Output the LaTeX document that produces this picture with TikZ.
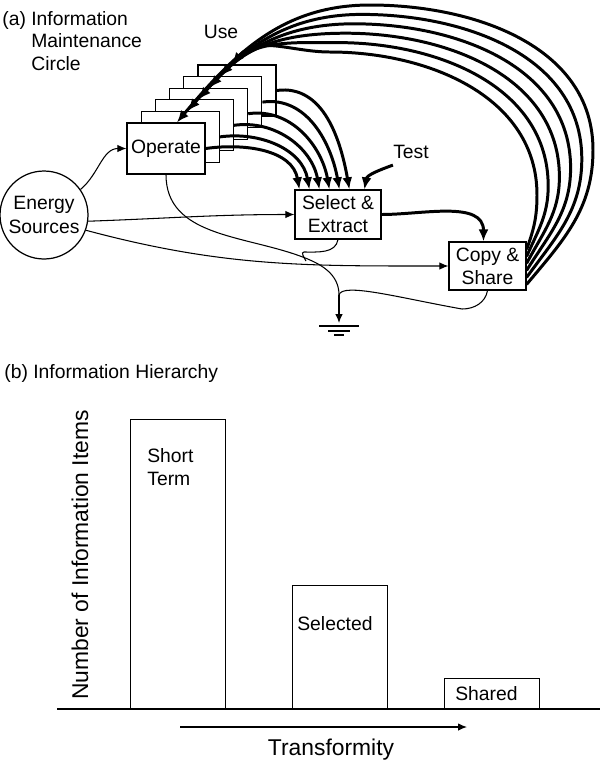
\documentclass[tikz,border=0pt]{standalone}
\usepackage{fontspec}
\setmainfont{Liberation Sans}
\usetikzlibrary{arrows.meta, positioning, calc}

\begin{document}
\begin{tikzpicture}[x=0.02cm, y=0.02cm,
        txt/.style={font=\fontsize{11}{12.8}\selectfont, inner sep=0pt},
        blk/.style={draw, fill=white, line width=0.7pt, minimum width=1.56cm, minimum height=1.02cm,
            font=\fontsize{11}{13}\selectfont, align=center, inner sep=1pt},
        src/.style={draw, circle, line width=0.7pt, minimum size=1.76cm, inner sep=0pt,
            font=\fontsize{11}{13.5}\selectfont, align=center},
        thin/.style={line width=0.6pt},
        flow/.style={-{Latex[length=1.8mm,width=1.5mm]}, line width=0.6pt},
        heavy/.style={-{Latex[length=2.4mm,width=2mm]}, line width=1.7pt},
        bar/.style={draw, line width=0.7pt, anchor=south west, minimum width=1.9cm, inner sep=0pt},
        axlbl/.style={font=\fontsize{13}{15}\selectfont, inner sep=0pt}
    ]
    \useasboundingbox (0,0) rectangle (600,-762);

    % (a) maintenance circle
    \node[txt, anchor=north west, align=left] (ttlA) at (2,-11)
        {(a) Information\\\phantom{(a) }Maintenance\\\phantom{(a) }Circle};
    \node[txt] (use) at (221,-32) {Use};
    \node[txt] (test) at (411,-152) {Test};

    % stacked operate boxes, back to front
    \foreach \k in {5,...,1}
        \node[blk] (op\k) at ({166+14.2*\k},{-148.5+11.6*\k}) {};
    \node[blk] (op0) at (166,-148.5) {Operate};

    \node[src] (en) at (44,-215) {Energy\\Sources};
    \node[blk, minimum width=1.72cm, minimum height=0.98cm] (sel) at (338,-214.5) {Select \&\\Extract};
    \node[blk, minimum width=1.54cm, minimum height=0.96cm] (cp) at (487.5,-266) {Copy \&\\Share};

    % energy inputs
    \draw[flow] (en.35) to[out=40,in=180] (op0.west);
    \draw[flow] (en.-8) to[out=2,in=180] (sel.west);
    \draw[flow] (en.-20) to[out=-15,in=180] (cp.west);

    % losses to the sink
    \coordinate (mg) at (339,-295);
    \coordinate (gd) at (339,-323);
    \draw[thin] (op0.south) to[out=-90,in=160] (300,-256) to[out=-20,in=90] (mg);
    \draw[thin] (sel.south) to[out=-100,in=0] (304,-252) to[out=180,in=120] (306,-261);
    \draw[thin] (cp.south) to[out=-100,in=0] (462,-309) .. controls (400,-298) and (342,-282) .. (mg);
    \draw[flow] (mg) -- (gd);
    \draw[thin] ($(gd)+(-20,-3)$) -- ++(40,0) ($(gd)+(-11,-8)$) -- ++(22,0) ($(gd)+(-5,-12)$) -- ++(10,0);

    % operate -> select
    \foreach \k in {0,...,5}
        \draw[heavy] (op\k.east) to[out=8,in=100] ($(sel.north west)+({5+10*\k},0)$);
    \draw[heavy] ($(test.south west)+(0,-6)$) to[out=200,in=80] ($(sel.north west)+(70,0)$);
    \draw[heavy] (sel.east) to[out=0,in=90] ($(cp.north)+(-4,0)$);

    % use: copy -> operate
    \foreach \j in {0,...,5}{
        \pgfmathtruncatemacro{\k}{5-\j}
        \pgfmathsetmacro{\oa}{70-4*\j}
        \draw[heavy] ($(cp.north east)+(0,{-8-7*\j})$) to[out=\oa,in=-90] ({537+11.2*\j},{-195+9*\j})
            to[out=90,in=0] ({330+8*\j},{-52+9.4*\j})
            to[out=180,in=50] ($(op\k.north)+({11-3.2*\k},0)$);
    }

    % (b) hierarchy
    \node[txt, anchor=west] (ttlB) at (4,-373) {(b) Information Hierarchy};
    \coordinate (ax0) at (57,-709);
    \coordinate (ax1) at (600,-709);
    \draw[thin] (ax0) -- (ax1);
    \node[bar, minimum height=5.78cm] (b1) at (130,-709) {};
    \node[bar, minimum height=2.46cm] (b2) at (292,-709) {};
    \node[bar, minimum height=0.6cm] (b3) at (444,-709) {};
    \node[txt, anchor=west, align=left] (lb1) at (147,-467) {Short\\Term};
    \node[txt, anchor=west] (lb2) at (297,-624) {Selected};
    \node[txt, anchor=west] (lb3) at (455,-694) {Shared};
    \node[axlbl, rotate=90] (ylbl) at (80,-555) {Number of Information Items};
    \coordinate (tf0) at (180,-727);
    \coordinate (tf1) at (467,-727);
    \draw[flow] (tf0) -- (tf1);
    \node[axlbl] (tflbl) at (331,-750) {Transformity};
\end{tikzpicture}
\end{document}
